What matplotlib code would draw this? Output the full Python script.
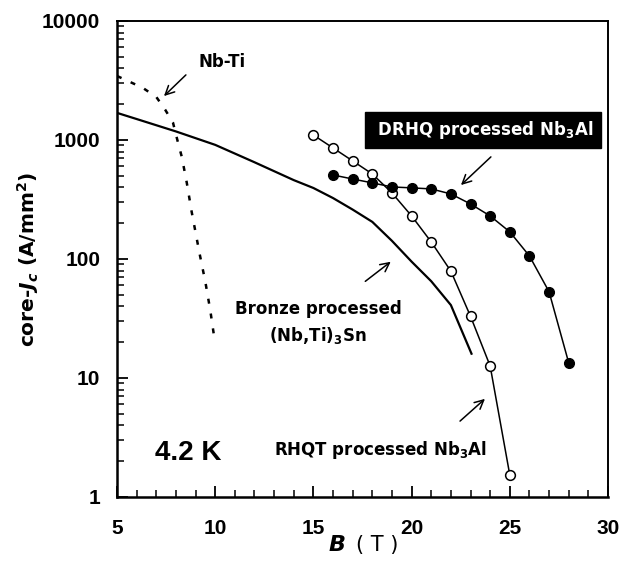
import numpy as np
import matplotlib
matplotlib.use("Agg")
import matplotlib.pyplot as plt
from matplotlib.ticker import FixedLocator, MultipleLocator, LogLocator, NullFormatter

plt.rcParams['font.family'] = ['DejaVu Sans']
plt.rcParams['mathtext.fontset'] = 'custom'
plt.rcParams['mathtext.rm'] = 'DejaVu Sans:bold'
plt.rcParams['mathtext.bf'] = 'DejaVu Sans:bold'
plt.rcParams['mathtext.it'] = 'DejaVu Sans:italic:bold'

# Nb-Ti (dotted)
nbti_b = [5, 6.3, 7.0, 7.45, 7.85, 8.1, 8.3, 8.55, 8.8, 9.2, 9.5, 9.75, 9.95]
nbti_jc = [3450, 2750, 2300, 1800, 1400, 960, 720, 440, 250, 112, 64, 37, 22]

# Bronze processed (Nb,Ti)3Sn (solid line)
bronze_b = [5, 6, 8, 10, 12, 14, 15, 16, 17, 18, 19, 20, 21, 22, 23.05]
bronze_jc = [1690, 1500, 1180, 910, 650, 460, 395, 325, 260, 205, 142, 95, 65, 41, 16]

# RHQT processed Nb3Al (open circles)
rhqt_b = [15, 16, 17, 18, 19, 20, 21, 22, 23, 24, 25]
rhqt_jc = [1100, 857, 667, 518, 359, 230, 139, 79, 33, 12.6, 1.53]

# DRHQ processed Nb3Al (filled circles)
drhq_b = [16, 17, 18, 19, 20, 21, 22, 23, 24, 25, 26, 27, 28]
drhq_jc = [508, 470, 436, 403, 396, 388, 352, 290, 230, 169, 106, 53, 13.4]

y_ticks = [1, 10, 100, 1000, 10000]
y_ticklabels = ["1", "10", "100", "1000", "10000"]
x_ticks = [5, 10, 15, 20, 25, 30]

fig = plt.figure(figsize=(6.22, 5.64), dpi=100)
ax = fig.add_axes([0.1881, 0.1188, 0.7894, 0.844])

ax.plot(nbti_b, nbti_jc, color='black', linewidth=1.8, linestyle=(0, (2, 4)))
ax.plot(bronze_b, bronze_jc, color='black', linewidth=1.6)
ax.plot(rhqt_b, rhqt_jc, color='black', linewidth=1.1, marker='o', markersize=7,
        markerfacecolor='white', markeredgecolor='black', markeredgewidth=1.1)
ax.plot(drhq_b, drhq_jc, color='black', linewidth=1.1, marker='o', markersize=7,
        markerfacecolor='black', markeredgecolor='black')

ax.set_yscale('log')
ax.set_xlim(5, 30)
ax.set_ylim(1, 10000)

ax.yaxis.set_major_locator(FixedLocator(y_ticks))
ax.set_yticklabels(y_ticklabels)
ax.yaxis.set_minor_locator(LogLocator(base=10, subs=np.arange(2, 10)))
ax.yaxis.set_minor_formatter(NullFormatter())
ax.set_xticks(x_ticks)
ax.xaxis.set_minor_locator(MultipleLocator(1))

ax.tick_params(which='major', direction='in', length=8, width=1.3,
               top=False, right=False)
ax.tick_params(which='minor', direction='in', length=5, width=1.1,
               top=False, right=False)
ax.tick_params(axis='y', which='major', pad=12)
ax.tick_params(axis='x', which='major', pad=16)
for lab in ax.get_xticklabels() + ax.get_yticklabels():
    lab.set_fontfamily('Liberation Sans')
    lab.set_fontweight('bold')
    lab.set_fontsize(15)

for s in ['left', 'bottom']:
    ax.spines[s].set_linewidth(1.8)
for s in ['top', 'right']:
    ax.spines[s].set_linewidth(1.4)

ax.set_ylabel(r"core-$J_c$ (A/mm$^2$)", fontsize=14.5, fontweight='bold')
ax.yaxis.set_label_coords(-0.155, 0.5)
fig.text(0.542, 0.034, "B", fontsize=16, fontweight='bold', style='italic',
         ha='center', va='center')
fig.text(0.606, 0.034, "( T )", fontsize=15, ha='center', va='center')

bold = dict(fontweight='bold', fontsize=12, ha='center', va='center')
arrow = dict(arrowstyle='->', color='black', lw=1.1, mutation_scale=16)

ax.text(10.35, 4519, "Nb-Ti", **bold)
ax.annotate("", xy=(7.29, 2254), xytext=(8.61, 3656), arrowprops=arrow)

ax.text(23.64, 1213, r" DRHQ processed Nb$_3$Al ", color='white',
        bbox=dict(boxstyle='square,pad=0.4', fc='black', ec='black'), **bold)
ax.annotate("", xy=(22.41, 403), xytext=(24.14, 748), arrowprops=arrow)

ax.text(15.23, 29, "Bronze processed\n" + r"(Nb,Ti)$_3$Sn", linespacing=1.45, **bold)
ax.annotate("", xy=(19.05, 98), xytext=(17.53, 62.8), arrowprops=arrow)

ax.text(18.44, 2.48, r"RHQT processed Nb$_3$Al", **bold)
ax.annotate("", xy=(23.84, 6.92), xytext=(22.36, 4.19), arrowprops=arrow)

ax.text(8.61, 2.34, "4.2 K", fontfamily='Liberation Sans', fontweight='bold',
        fontsize=20, ha='center', va='center')

fig.savefig("out.png", dpi=100)
